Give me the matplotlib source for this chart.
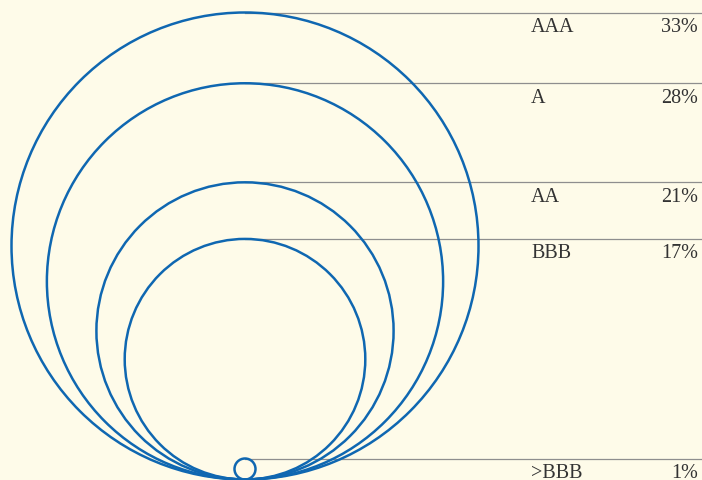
import matplotlib.pyplot as plt
from matplotlib.patches import Circle

# Rating shares, largest first
ratings = ['AAA', 'A', 'AA', 'BBB', '>BBB']
shares = [33, 28, 21, 17, 1]

BG = '#fefbe9'
BLUE = '#0f67b1'
GREY = '#8e8e8e'

# canvas in pixel units, y pointing down
W, H = 702, 480
fig = plt.figure(figsize=(W / 100, H / 100), dpi=100, facecolor=BG)
ax = fig.add_axes([0, 0, 1, 1])
ax.set_facecolor(BG)
ax.set_xlim(0, W)
ax.set_ylim(H, 0)
ax.set_aspect('equal')
ax.axis('off')

# circles share a tangent point at the bottom; diameter scales with share
base_x, base_y = 245, 479.5
px_per_pct = 467 / max(shares)
min_diam = 21

for name, pct in zip(ratings, shares):
    d = max(pct * px_per_pct, min_diam)
    top = base_y - d
    ax.add_patch(Circle((base_x, base_y - d / 2), d / 2, fill=False,
                        edgecolor=BLUE, linewidth=1.8, zorder=3))
    ax.plot([base_x, W], [top, top], color=GREY, linewidth=0.9, zorder=2)
    ax.text(531, top + 19.5, name, fontsize=14.5, family='Liberation Serif',
            color='#333333', ha='left', va='baseline')
    ax.text(698, top + 19.5, f'{pct}%', fontsize=14.5,
            family='Liberation Serif', color='#333333', ha='right',
            va='baseline')

fig.savefig('out.png', dpi=100, facecolor=BG)
